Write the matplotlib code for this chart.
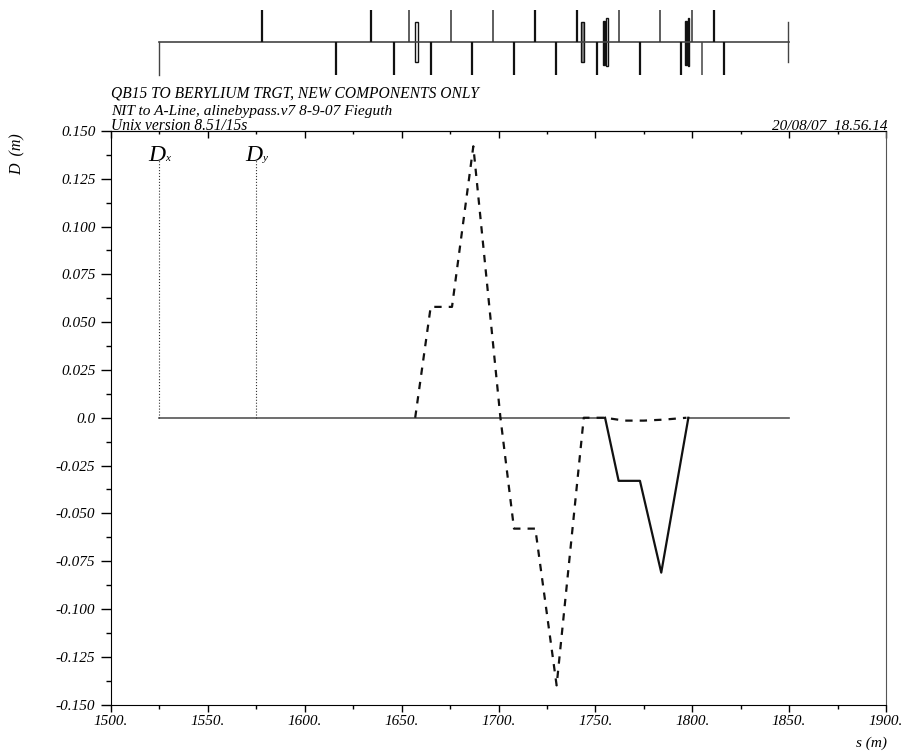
"""Dispersion plot with beamline layout strip above it."""

import matplotlib
matplotlib.use("Agg")
import matplotlib.pyplot as plt

S_DX = [1755, 1762, 1773, 1784, 1798]
DX = [0.0, -0.033, -0.033, -0.081, 0.0]

# Dx sits on zero on either side of the trough
S_ZERO_LEFT = [1525, 1755]
S_ZERO_RIGHT = [1798, 1850]
ZERO = [0.0, 0.0]

S_DY = [1657, 1665, 1676, 1687, 1701, 1708, 1719, 1730, 1744, 1755, 1765, 1775, 1785, 1797]
DY = [0.0, 0.058, 0.058, 0.142, 0.0, -0.058, -0.058, -0.14, 0.0, 0.0, -0.0015, -0.0015, -0.001, 0.0]

S_UP_THICK = [1578, 1634, 1719, 1740.5, 1811]
S_UP_THIN = [1654, 1675.5, 1697, 1762, 1783.5, 1800]
S_DOWN_THICK = [1616, 1646, 1665, 1686.5, 1708, 1729.5, 1751, 1773, 1794, 1816.5]
S_DOWN_THIN = [1805]
BOXES_GRAY = [1743.5]
BOXES_OPEN = [1657.5]
BOXES_OPEN_TALL = [1755.8]
BOXES_BLACK = [1754.6, 1797]
BOXES_BLACK_TALL = [1798.1]

X_TICKS = [1500, 1550, 1600, 1650, 1700, 1750, 1800, 1850, 1900]
X_LABELS = ["1500.", "1550.", "1600.", "1650.", "1700.", "1750.", "1800.", "1850.", "1900."]
X_MINOR = [1525, 1575, 1625, 1675, 1725, 1775, 1825, 1875]
Y_TICKS = [-0.150, -0.125, -0.100, -0.075, -0.050, -0.025, 0.0, 0.025, 0.050, 0.075, 0.100, 0.125, 0.150]
Y_LABELS = ["-0.150", "-0.125", "-0.100", "-0.075", "-0.050", "-0.025", "0.0",
            "0.025", "0.050", "0.075", "0.100", "0.125", "0.150"]

W, H = 906, 753
plt.rcParams["font.family"] = ["Liberation Serif", "DejaVu Serif"]
plt.rcParams["font.style"] = "italic"

fig = plt.figure(figsize=(W / 100, H / 100), dpi=100)
ax = fig.add_axes([111 / W, 1 - 704.5 / H, 775 / W, 573.5 / H])
ax.set_xlim(1500, 1900)
ax.set_ylim(-0.15, 0.15)

ax.plot(S_ZERO_LEFT, ZERO, color="#555555", lw=1.2)
ax.plot(S_ZERO_RIGHT, ZERO, color="#555555", lw=1.2)
ax.plot(S_DX, DX, color="#111111", lw=1.6)
ax.plot(S_DY, DY, color="#111111", lw=1.6, dashes=(3.3, 3.2))
ax.plot([1525, 1525], [0, 0.135], color="#333333", lw=0.8, ls=":")
ax.plot([1575, 1575], [0, 0.135], color="#333333", lw=0.8, ls=":")
ax.text(1527.9, 0.1342, "D", fontsize=17, ha="right", va="baseline")
ax.text(1528.2, 0.1342, "x", fontsize=8, ha="left", va="baseline")
ax.text(1578, 0.1342, "D", fontsize=17, ha="right", va="baseline")
ax.text(1578.3, 0.1342, "y", fontsize=8, ha="left", va="baseline")

ax.set_xticks(X_TICKS, X_LABELS, fontsize=11)
ax.set_yticks(Y_TICKS, Y_LABELS, fontsize=11)
ax.set_xticks(X_MINOR, minor=True)
ax.set_yticks([y + 0.0125 for y in Y_TICKS[:-1]], minor=True)
ax.tick_params(axis="x", which="major", direction="out", length=5, width=1, pad=2.5)
ax.tick_params(axis="x", which="minor", direction="out", length=3, width=1)
ax.tick_params(axis="y", which="major", direction="out", length=7, width=1, pad=4.3)
ax.tick_params(axis="y", which="minor", direction="out", length=3.6, width=1)
ax.spines["right"].set_color("#555555")

# the top edge has its ticks pointing inwards, the bottom one outwards
top = ax.secondary_xaxis("top")
top.set_xticks(X_TICKS, [""] * len(X_TICKS))
top.set_xticks(X_MINOR, minor=True)
top.tick_params(axis="x", which="major", direction="in", length=5, width=1)
top.tick_params(axis="x", which="minor", direction="in", length=2.5, width=1)

fig.text(18 / W, 1 - 154 / H, "D  (m)", fontsize=11.5, rotation=90, ha="center", va="center")
fig.text(887 / W, 1 - 743 / H, "s (m)", fontsize=11, ha="right", va="center")
fig.text(111 / W, 1 - 93 / H, "QB15 TO BERYLIUM TRGT, NEW COMPONENTS ONLY", fontsize=11.2, va="center")
fig.text(111 / W, 1 - 111 / H, "NIT to A-Line, alinebypass.v7 8-9-07 Fieguth", fontsize=11.1, va="center")
fig.text(111 / W, 1 - 126 / H, "Unix version 8.51/15s", fontsize=11.2, va="center")
fig.text(887 / W, 1 - 126 / H, "20/08/07  18.56.14", fontsize=11, ha="right", va="center")

# beamline strip, same s scale as the main axes, y is in pixels from the beam line
lat = fig.add_axes([111 / W, 1 - 80 / H, 775 / W, 80 / H])
lat.set_xlim(1500, 1900)
lat.set_ylim(-38, 42)
lat.axis("off")
lat.plot([1525, 1850], [0, 0], color="#444444", lw=1.2)
lat.plot([1525, 1525], [-33, 0], color="#444444", lw=1)
lat.plot([1849.4, 1849.4], [-20, 20], color="#444444", lw=1)
lat.vlines(S_UP_THICK, 0, 32, color="#111111", lw=1.6)
lat.vlines(S_UP_THIN, 0, 32, color="#333333", lw=1.1)
lat.vlines(S_DOWN_THICK, -33, 0, color="#111111", lw=1.6)
lat.vlines(S_DOWN_THIN, -33, 0, color="#444444", lw=1.1)
lat.bar(BOXES_GRAY, 40, width=1.6, bottom=-20, color="#888888", edgecolor="#111111", lw=1)
lat.bar(BOXES_OPEN, 40, width=1.6, bottom=-20, color="white", edgecolor="#111111", lw=1)
lat.bar(BOXES_OPEN_TALL, 48, width=1.0, bottom=-24, color="white", edgecolor="#111111", lw=1)
lat.bar(BOXES_BLACK, 44, width=1.0, bottom=-23, color="#111111", edgecolor="#111111", lw=1)
lat.bar(BOXES_BLACK_TALL, 48, width=0.8, bottom=-24, color="#111111", edgecolor="#111111", lw=1)

fig.savefig("out.png", dpi=100)
